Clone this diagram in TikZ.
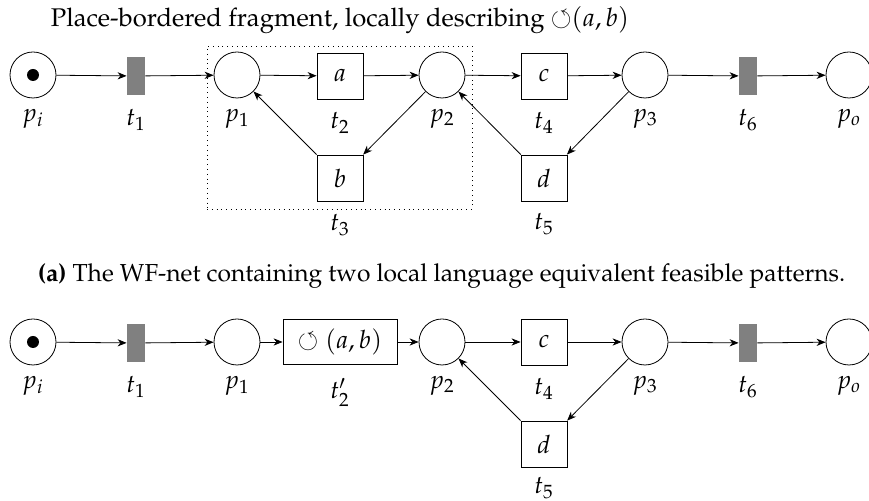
\documentclass[tikz,border=0pt]{standalone}
\usepackage[T1]{fontenc}
\usepackage{mathpazo}
\usepackage{amssymb}
\usetikzlibrary{arrows.meta}
\tikzset{
  place/.style={circle,draw,minimum size=23pt,inner sep=0pt},
  trans/.style={rectangle,draw,minimum size=23pt,inner sep=0pt},
  silent/.style={rectangle,fill=gray,minimum width=9pt,minimum height=19pt,inner sep=0pt},
  token/.style={circle,fill=black,minimum size=6pt,inner sep=0pt},
  arc/.style={-{Stealth[length=4.5pt,width=3.6pt,inset=1.4pt]}},
  fragbox/.style={draw,dotted,minimum width=132.5pt,minimum height=81.5pt,inner sep=0pt},
  lbl/.style={inner sep=0pt,anchor=north}
}
\begin{document}
\begin{tikzpicture}[x=0.5pt,y=-0.5pt,font=\fontsize{12.6}{15.2}\selectfont]
\useasboundingbox (0,0) rectangle (869,501);
% ---------- top net ----------
\node[anchor=base,inner sep=0pt,font=\fontsize{12.8}{15.4}\selectfont] (title) at (340,27) {Place-bordered fragment, locally describing ${\circlearrowleft}(a,b)$};
\node[fragbox] (frag) at (339.5,127.5) {};
\node[place] (pi) at (33,75) {};
\node[token] (tok) at (pi) {};
\node[silent] (t1) at (136,76) {};
\node[place] (p1) at (237,75) {};
\node[trans] (t2) at (340,76) {$a$};
\node[place] (p2) at (442,75) {};
\node[trans] (t4) at (544,76) {$c$};
\node[place] (p3) at (645,75) {};
\node[silent] (t6) at (748,76) {};
\node[place] (po) at (849,75) {};
\node[trans] (t3) at (340,178) {$b$};
\node[trans] (t5) at (544,178) {$d$};
\node[lbl] (lpi) at (33,109) {$p_i$};
\node[lbl] (lt1) at (136,109) {$t_1$};
\node[lbl] (lp1) at (237,109) {$p_1$};
\node[lbl] (lt2) at (340,112) {$t_2$};
\node[lbl] (lp2) at (442,109) {$p_2$};
\node[lbl] (lt4) at (544,112) {$t_4$};
\node[lbl] (lp3) at (645,109) {$p_3$};
\node[lbl] (lt6) at (748,109) {$t_6$};
\node[lbl] (lpo) at (849,109) {$p_o$};
\node[lbl] (lt3) at (340,214) {$t_3$};
\node[lbl] (lt5) at (544,213) {$t_5$};
\draw[arc] (pi) -- (t1);
\draw[arc] (t1) -- (p1);
\draw[arc] (p1) -- (t2);
\draw[arc] (t2) -- (p2);
\draw[arc] (p2) -- (t4);
\draw[arc] (t4) -- (p3);
\draw[arc] (p3) -- (t6);
\draw[arc] (t6) -- (po);
\draw[arc] (p2) -- (t3);
\draw[arc] (t3) -- (p1);
\draw[arc] (p3) -- (t5);
\draw[arc] (t5) -- (p2);
% ---------- caption ----------
\node[anchor=base,inner sep=0pt,font=\fontsize{12.3}{14.8}\selectfont] (cap) at (441.5,282) {\textbf{(a)} The WF-net containing two local language equivalent feasible patterns.};
% ---------- bottom net ----------
\node[place] (qi) at (33,342) {};
\node[token] (tok2) at (qi) {};
\node[silent] (u1) at (136,343) {};
\node[place] (q1) at (237,342) {};
\node[trans,minimum width=57pt,minimum height=22.5pt] (u2) at (340,342) {$\circlearrowleft(a,b)$};
\node[place] (q2) at (442,342) {};
\node[trans] (u4) at (544,342) {$c$};
\node[place] (q3) at (645,342) {};
\node[silent] (u6) at (748,343) {};
\node[place] (qo) at (849,342) {};
\node[trans] (u5) at (544,444) {$d$};
\node[lbl] (lqi) at (33,376) {$p_i$};
\node[lbl] (lu1) at (136,376) {$t_1$};
\node[lbl] (lq1) at (237,376) {$p_1$};
\node[lbl] (lu2) at (340,378) {$t_2'$};
\node[lbl] (lq2) at (442,376) {$p_2$};
\node[lbl] (lu4) at (544,378) {$t_4$};
\node[lbl] (lq3) at (645,376) {$p_3$};
\node[lbl] (lu6) at (748,376) {$t_6$};
\node[lbl] (lqo) at (849,376) {$p_o$};
\node[lbl] (lu5) at (544,477) {$t_5$};
\draw[arc] (qi) -- (u1);
\draw[arc] (u1) -- (q1);
\draw[arc] (q1) -- (u2);
\draw[arc] (u2) -- (q2);
\draw[arc] (q2) -- (u4);
\draw[arc] (u4) -- (q3);
\draw[arc] (q3) -- (u6);
\draw[arc] (u6) -- (qo);
\draw[arc] (q3) -- (u5);
\draw[arc] (u5) -- (q2);
\end{tikzpicture}
\end{document}
